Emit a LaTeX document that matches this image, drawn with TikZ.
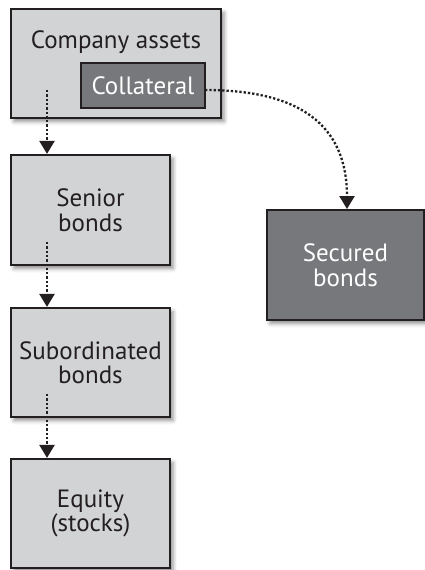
\documentclass[tikz,border=0pt]{standalone}
\usepackage{fontspec}
\setmainfont{PT Sans}
\usetikzlibrary{arrows.meta,shadows.blur}
\definecolor{inkc}{HTML}{231F20}
\definecolor{lightg}{HTML}{D2D3D5}
\definecolor{darkg}{HTML}{77787B}
\tikzset{
  boxplain/.style={draw=inkc, line width=2.2pt, rectangle, inner sep=0pt, align=center,
    font=\fontsize{25}{24.5}\selectfont},
  boxbase/.style={boxplain,
    blur shadow={shadow xshift=3pt, shadow yshift=-3.5pt, shadow blur radius=4pt, shadow opacity=45}},
  lightbox/.style={boxbase, fill=lightg, text=inkc},
  darkbox/.style={boxbase, fill=darkg, text=white},
  innerbox/.style={boxplain, fill=darkg, text=white},
  txt/.style={font=\fontsize{25}{24.5}\selectfont, text=inkc, inner sep=0pt},
  flow/.style={draw=inkc, line width=2.3pt, dash pattern=on 2.3pt off 2pt,
    -{Triangle[width=15pt,length=13pt,fill=inkc]}}
}
\begin{document}
\begin{tikzpicture}[x=1pt,y=-1pt]
\useasboundingbox (0,0) rectangle (425,570);
\node[lightbox, minimum width=210pt, minimum height=109pt] (ca) at (116,63.5) {};
\node[txt, anchor=base] (catext) at (116,48) {Company assets};
\node[innerbox, minimum width=124pt, minimum height=45pt] (col) at (143,85.5) {Collateral};
\node[lightbox, minimum width=159pt, minimum height=110pt] (sen) at (90.5,210) {Senior\\bonds};
\node[lightbox, minimum width=159pt, minimum height=109pt] (sub) at (90.5,362.5) {Subordinated\\bonds};
\node[lightbox, minimum width=159pt, minimum height=109pt] (eq) at (90.5,513.5) {Equity\\(stocks)};
\node[darkbox, minimum width=157pt, minimum height=110pt] (sec) at (345.5,265) {Secured\\bonds};
\coordinate (s1) at (47,90);
\coordinate (s2) at (47,242);
\coordinate (s3) at (47,394);
\coordinate (colout) at (205,90);
\coordinate (secin) at (347,209);
\draw[flow] (s1) -- (s1 |- sen.north);
\draw[flow] (s2) -- (s2 |- sub.north);
\draw[flow] (s3) -- (s3 |- eq.north);
\draw[flow] (colout) .. controls (300,90) and (347,125) .. (secin);
\end{tikzpicture}
\end{document}
